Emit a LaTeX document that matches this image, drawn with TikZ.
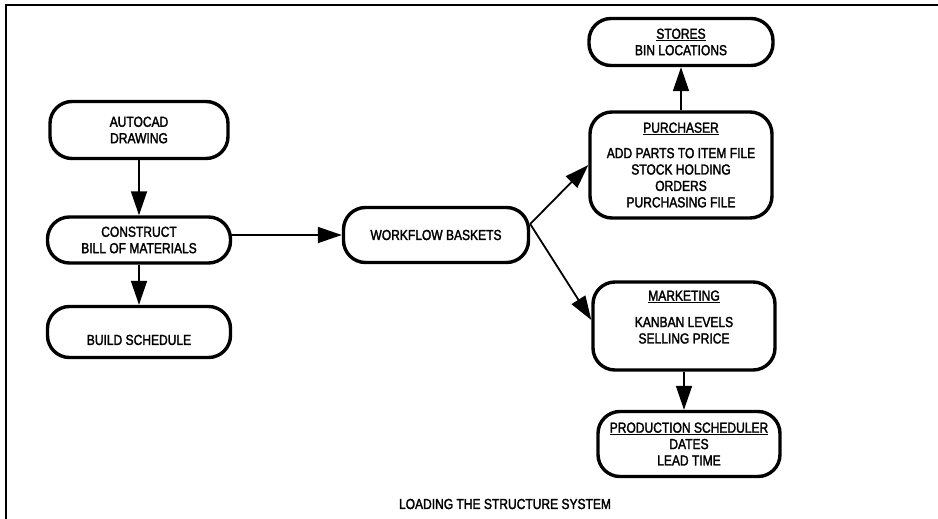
\documentclass[tikz,border=0pt]{standalone}
\usepackage{fontspec}
\setmainfont{Liberation Sans}[FakeStretch=0.83,FakeBold=2]
\usepackage{tikz}
\usetikzlibrary{arrows.meta}
\usetikzlibrary{shapes,shapes.geometric}
\tikzset{>=stealth}
\tikzset{
  flowbox/.style={draw, line width=3.4pt, rounded corners=22pt, align=center, inner sep=0pt,
    font=\fontsize{14.5}{16.4}\selectfont},
  flowarrow/.style={-{Triangle[length=24pt,width=16pt]}, line width=1.8pt}
}

\begin{document}
\begin{tikzpicture}[x=1pt,y=-1pt]
      \useasboundingbox (0,0) rectangle (938,519);
      \draw[line width=1.8pt] (6,519) -- (6,5) -- (938,5);
      % left column
      \node[flowbox, minimum width=178pt, minimum height=57pt] (autocad) at (139,130) {AUTOCAD\\DRAWING};
      \node[flowbox, minimum width=183pt, minimum height=46pt] (construct) at (139,240) {CONSTRUCT\\BILL OF MATERIALS};
      \node[flowbox, minimum width=183pt, minimum height=51pt, text height=26pt] (build) at (139,332) {BUILD SCHEDULE};
      \node[flowbox, minimum width=185pt, minimum height=55pt] (workflow) at (436,235) {WORKFLOW BASKETS};
      % right column
      \node[flowbox, minimum width=184pt, minimum height=47pt] (stores) at (681,42) {\underline{STORES}\\BIN LOCATIONS};
      \node[flowbox, minimum width=182pt, minimum height=106pt] (purchaser) at (681,165)
        {\underline{PURCHASER}\\[9pt]ADD PARTS TO ITEM FILE\\STOCK HOLDING\\ORDERS\\PURCHASING FILE};
      \node[flowbox, minimum width=182pt, minimum height=88pt, text depth=18pt] (marketing) at (684,326)
        {\underline{MARKETING}\\[10pt]KANBAN LEVELS\\SELLING PRICE};
      \node[flowbox, minimum width=182pt, minimum height=65pt] (prodsched) at (689,444)
        {\underline{PRODUCTION SCHEDULER}\\DATES\\LEAD TIME};
      \node[font=\fontsize{14.5}{16.4}\selectfont] (caption) at (505,504) {LOADING THE STRUCTURE SYSTEM};
      % connectors
      \draw[flowarrow] (autocad) -- (construct);
      \draw[flowarrow] (construct) -- (build);
      \draw[flowarrow] (construct.east |- workflow.west) -- (workflow.west);
      \draw[flowarrow] ([yshift=11pt]workflow.east) -- (purchaser.west);
      \draw[flowarrow] ([yshift=11pt]workflow.east) -- ([yshift=6pt]marketing.west);
      \draw[flowarrow] (purchaser) -- (stores);
      \draw[flowarrow] (marketing.south) -- (marketing.south |- prodsched.north);
\end{tikzpicture}
\end{document}
